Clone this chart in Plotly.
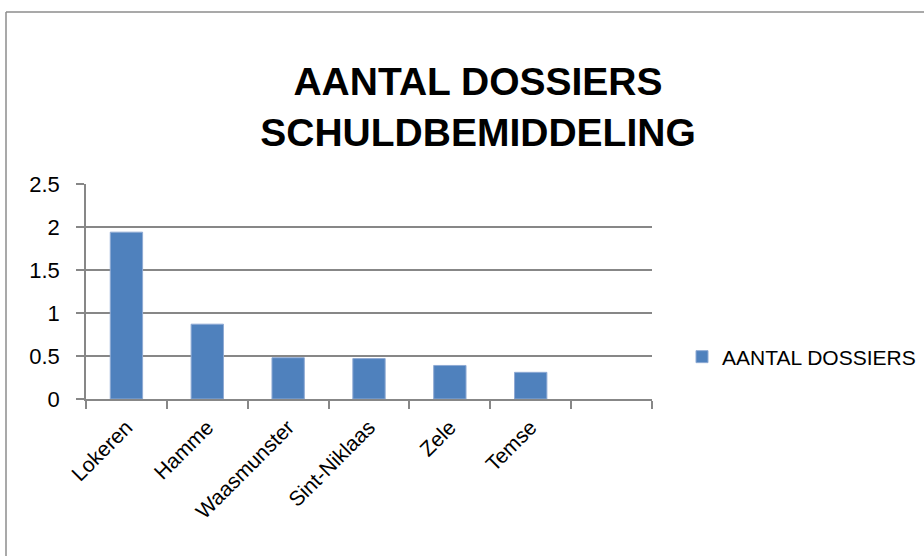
import plotly.graph_objects as go

categories = ["Lokeren", "Hamme", "Waasmunster", "Sint-Niklaas", "Zele", "Temse"]
values = [1.94, 0.87, 0.48, 0.47, 0.39, 0.31]
series_name = "AANTAL DOSSIERS"
title_lines = ["AANTAL DOSSIERS", "SCHULDBEMIDDELING"]
y_ticks = [0, 0.5, 1, 1.5, 2, 2.5]
y_tick_labels = ["0", "0.5", "1", "1.5", "2", "2.5"]

W, H = 960, 556          # figure slightly wider than the 924px window; overflow hidden
L, R, T, B = 86, 652, 184, 399

x_vals = categories + [" "]
y_vals = values + [None]

fig = go.Figure()
fig.add_trace(go.Bar(
    x=x_vals, y=y_vals, name=series_name,
    marker=dict(color="#4F81BD", line=dict(color="#8FAAD4", width=1)),
    showlegend=True,
))

font_main = "Liberation Sans, Arial, sans-serif"
grid_col = "#878787"

fig.update_layout(
    width=W, height=H,
    margin=dict(l=L, r=W - R, t=T, b=H - B, pad=0),
    paper_bgcolor="white", plot_bgcolor="white",
    font=dict(family=font_main, color="black"),
    title=dict(
        text="<b>" + "<br>".join(title_lines) + "</b>",
        font=dict(family=font_main, size=39, color="black"),
        x=478 / W, xref="container", xanchor="center",
        y=1 - 95 / H, yref="container", yanchor="middle",
    ),
    bargap=0.6,
    showlegend=True,
    legend=dict(
        x=(682 - L) / (R - L), xanchor="left",
        y=(B - 357) / (B - T), yanchor="middle",
        font=dict(size=21, family=font_main, color="black"),
        bgcolor="rgba(0,0,0,0)",
    ),
    xaxis=dict(
        type="category",
        categoryorder="array", categoryarray=x_vals,
        range=[-0.5, 6.5],
        tickson="boundaries",
        ticks="outside", ticklen=8, tickcolor=grid_col, tickwidth=1.5,
        showline=True, linecolor=grid_col, linewidth=1.5,
        showgrid=False,
        tickangle=-45,
        ticklabelstandoff=6,
        tickfont=dict(size=21, family=font_main, color="black"),
        fixedrange=True,
    ),
    yaxis=dict(
        range=[0, 2.5],
        tickvals=y_ticks, ticktext=y_tick_labels,
        ticks="outside", ticklen=8, tickcolor=grid_col, tickwidth=1.5,
        showline=True, linecolor=grid_col, linewidth=1.5,
        showgrid=True, gridcolor=grid_col, gridwidth=1.5,
        zeroline=False,
        ticklabelstandoff=12,
        tickfont=dict(size=22, family=font_main, color="black"),
        fixedrange=True,
    ),
)

# outer chart border (left and top edges visible in the crop)
fig.add_shape(type="line", xref="paper", yref="paper",
              x0=(6 - L) / (R - L), x1=(W - L) / (R - L),
              y0=(B - 12) / (B - T), y1=(B - 12) / (B - T),
              line=dict(color="#8C8C8C", width=1.5))
fig.add_shape(type="line", xref="paper", yref="paper",
              x0=(6 - L) / (R - L), x1=(6 - L) / (R - L),
              y0=(B - 12) / (B - T), y1=(B - 570) / (B - T),
              line=dict(color="#8C8C8C", width=1.5))

fig.write_html(
    "out.html",
    config={"displayModeBar": False},
    post_script="document.body.style.margin='0px';document.body.style.overflow='hidden';",
)
